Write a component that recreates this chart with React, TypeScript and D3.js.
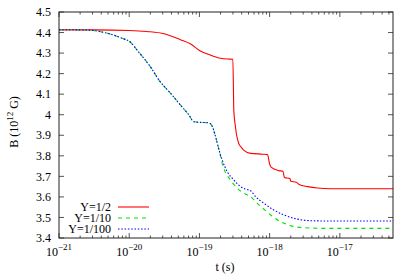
import React from "react";
import * as d3 from "d3";

// log10(t) exponents and B values (10^12 G)
const redLogT = [-21, -20.5, -20, -19.75, -19.5, -19.27, -19.13, -19.0, -18.84, -18.7, -18.6, -18.524, -18.51, -18.49, -18.47, -18.44, -18.4, -18.37, -18.27, -18.1, -18.03, -18.0, -17.98, -17.87, -17.81, -17.79, -17.71, -17.70, -17.62, -17.58, -17.46, -17.32, -17.13, -16.24];
const redB = [4.413, 4.413, 4.410, 4.405, 4.394, 4.365, 4.345, 4.313, 4.290, 4.275, 4.271, 4.270, 4.02, 3.95, 3.90, 3.86, 3.84, 3.828, 3.812, 3.808, 3.806, 3.76, 3.745, 3.728, 3.725, 3.695, 3.689, 3.676, 3.671, 3.660, 3.650, 3.643, 3.640, 3.640];

const greenLogT = [-21, -20.58, -20.34, -20.1, -19.99, -19.87, -19.7, -19.56, -19.41, -19.27, -19.15, -19.08, -18.99, -18.87, -18.82, -18.77, -18.72, -18.676, -18.653, -18.557, -18.461, -18.367, -18.271, -18.176, -18.081, -17.986, -17.843, -17.7, -17.51, -17.22, -16.24];
const greenB = [4.414, 4.412, 4.399, 4.372, 4.355, 4.307, 4.234, 4.161, 4.104, 4.047, 3.999, 3.966, 3.963, 3.961, 3.945, 3.893, 3.828, 3.764, 3.739, 3.682, 3.642, 3.618, 3.601, 3.569, 3.540, 3.512, 3.479, 3.460, 3.450, 3.447, 3.447];

const blueLogT = [-21, -20.58, -20.34, -20.1, -19.99, -19.87, -19.7, -19.56, -19.41, -19.27, -19.15, -19.08, -18.99, -18.87, -18.82, -18.77, -18.72, -18.676, -18.604, -18.51, -18.414, -18.343, -18.271, -18.2, -18.081, -17.939, -17.796, -17.604, -17.414, -17.224, -16.24];
const blueB = [4.414, 4.412, 4.399, 4.372, 4.355, 4.307, 4.234, 4.161, 4.104, 4.047, 3.999, 3.966, 3.963, 3.961, 3.945, 3.893, 3.828, 3.780, 3.723, 3.682, 3.650, 3.638, 3.630, 3.601, 3.569, 3.536, 3.512, 3.492, 3.484, 3.483, 3.483];

const yTicks = [3.4, 3.5, 3.6, 3.7, 3.8, 3.9, 4, 4.1, 4.2, 4.3, 4.4, 4.5];
const xTickExps = [-21, -20, -19, -18, -17];
const seriesNames = ["Y=1/2", "Y=1/10", "Y=1/100"];

const W = 415, H = 277;
const M = { left: 59, right: 393, top: 12, bottom: 238 };
const FONT = "Liberation Serif, Times New Roman, serif";

export default function App() {
  const x = d3.scaleLog().domain([1e-21, Math.pow(10, -16.243)]).range([M.left, M.right]);
  const y = d3.scaleLinear().domain([3.4, 4.5]).range([M.bottom, M.top]);

  const mk = (lt: number[], b: number[]) =>
    lt.map((v, i) => [Math.pow(10, v), b[i]] as [number, number]);
  const line = d3
    .line<[number, number]>()
    .x((d) => x(d[0]))
    .y((d) => y(d[1]))
    .curve(d3.curveMonotoneX);

  const series = [
    { data: mk(redLogT, redB), color: "#ff0000", dash: undefined as string | undefined },
    { data: mk(greenLogT, greenB), color: "#00e000", dash: "4,4" },
    { data: mk(blueLogT, blueB), color: "#0000ff", dash: "1.5,1.8" },
  ];

  const minorTicks: number[] = [];
  for (let e = -21; e <= -17; e++) {
    for (let m = 2; m <= 9; m++) {
      const v = m * Math.pow(10, e);
      if (v < x.domain()[1]) minorTicks.push(v);
    }
  }

  const tickColor = "#555";
  const fs = 12;
  const sfs = 9;
  return (
    <svg width={W} height={H} style={{ position: "absolute", left: 0, top: 0, fontFamily: FONT }}>
      <rect x={0} y={0} width={W} height={H} fill="#fff" />
      {/* y ticks */}
      {yTicks.map((t) => (
        <g key={"y" + t}>
          <line x1={M.left} x2={M.left + 5} y1={y(t)} y2={y(t)} stroke={tickColor} />
          <line x1={M.right} x2={M.right - 5} y1={y(t)} y2={y(t)} stroke={tickColor} />
          <text x={M.left - 8} y={y(t)} dy="0.35em" textAnchor="end" fontSize={fs}>
            {String(t)}
          </text>
        </g>
      ))}
      {/* x major ticks */}
      {xTickExps.map((e) => {
        const px = x(Math.pow(10, e));
        return (
          <g key={"x" + e}>
            <line x1={px} x2={px} y1={M.bottom} y2={M.bottom - 5} stroke={tickColor} />
            <line x1={px} x2={px} y1={M.top} y2={M.top + 5} stroke={tickColor} />
            <text x={px} y={M.bottom + 18} textAnchor="middle" fontSize={fs}>
              10<tspan dy={-6} fontSize={sfs}>{"\u2212" + String(-e)}</tspan>
            </text>
          </g>
        );
      })}
      {/* x minor ticks */}
      {minorTicks.map((v, i) => (
        <g key={"m" + i}>
          <line x1={x(v)} x2={x(v)} y1={M.bottom} y2={M.bottom - 2.5} stroke={tickColor} />
          <line x1={x(v)} x2={x(v)} y1={M.top} y2={M.top + 2.5} stroke={tickColor} />
        </g>
      ))}
      {/* series */}
      {series.map((s, i) => (
        <path key={i} d={line(s.data) || ""} fill="none" stroke={s.color} strokeWidth={1.1} strokeDasharray={s.dash} />
      ))}
      {/* border */}
      <rect x={M.left} y={M.top} width={M.right - M.left} height={M.bottom - M.top} fill="none" stroke="#222" strokeWidth={1} />
      {/* legend */}
      {seriesNames.map((n, i) => {
        const ly = 207 + i * 11;
        return (
          <g key={n}>
            <text x={111} y={ly} dy="0.35em" textAnchor="end" fontSize={fs}>{n}</text>
            <line x1={118} x2={149} y1={ly} y2={ly} stroke={series[i].color} strokeWidth={1.1} strokeDasharray={series[i].dash} />
          </g>
        );
      })}
      {/* axis labels */}
      <text x={225} y={271} textAnchor="middle" fontSize={fs}>t (s)</text>
      <text transform={`translate(18,122) rotate(-90)`} textAnchor="middle" fontSize={fs}>
        B (10<tspan dy={-5} fontSize={sfs}>12</tspan><tspan dy={5}> G)</tspan>
      </text>
    </svg>
  );
}
